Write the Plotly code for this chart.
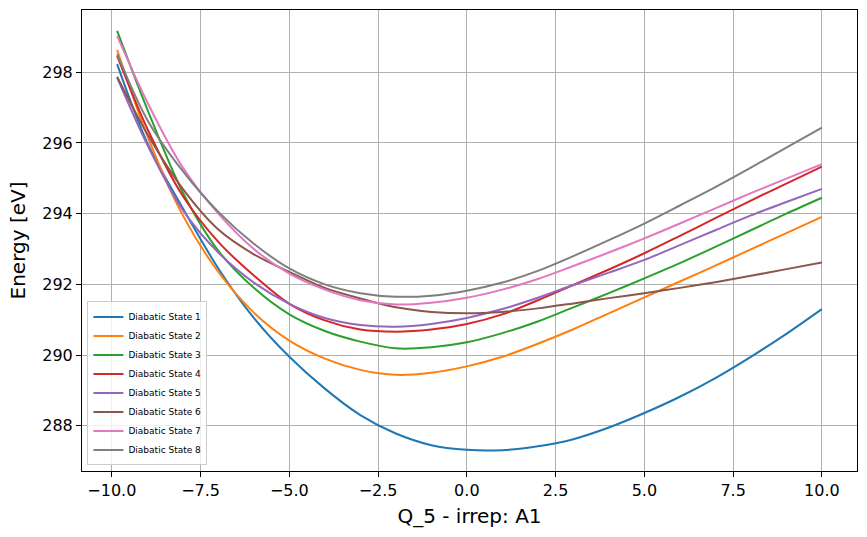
import plotly.graph_objects as go

q = [-9.85, -9, -8, -7, -6, -5, -4, -3, -2, -1, 0, 1, 2, 3, 4, 5, 6, 7, 8, 9, 10]

state1 = [298.23, 296.0, 294.15, 292.45, 291.05, 289.95, 289.05, 288.3, 287.78, 287.45, 287.32, 287.31, 287.42, 287.62, 287.95, 288.36, 288.82, 289.35, 289.95, 290.6, 291.30]
state2 = [298.63, 296.2, 293.95, 292.35, 291.2, 290.41, 289.9, 289.58, 289.44, 289.5, 289.68, 289.95, 290.32, 290.73, 291.18, 291.63, 292.08, 292.53, 292.99, 293.45, 293.91]
state3 = [299.17, 296.95, 294.6, 292.95, 291.9, 291.15, 290.68, 290.38, 290.19, 290.22, 290.36, 290.62, 290.95, 291.35, 291.75, 292.17, 292.6, 293.06, 293.53, 294.0, 294.45]
state4 = [298.46, 296.4, 294.5, 293.2, 292.25, 291.45, 290.98, 290.72, 290.66, 290.72, 290.88, 291.15, 291.55, 291.98, 292.42, 292.88, 293.37, 293.87, 294.37, 294.85, 295.33]
state5 = [297.85, 295.95, 294.1, 292.9, 292.05, 291.45, 291.05, 290.85, 290.8, 290.88, 291.05, 291.3, 291.62, 291.98, 292.33, 292.69, 293.11, 293.53, 293.95, 294.33, 294.70]
state6 = [297.87, 296.25, 294.7, 293.55, 292.85, 292.35, 291.9, 291.6, 291.35, 291.22, 291.18, 291.22, 291.32, 291.46, 291.61, 291.75, 291.9, 292.06, 292.24, 292.43, 292.62]
state7 = [299.03, 297.15, 295.3, 294.0, 293.0, 292.3, 291.85, 291.55, 291.43, 291.48, 291.62, 291.85, 292.15, 292.52, 292.9, 293.3, 293.72, 294.15, 294.58, 294.99, 295.40]
state8 = [298.51, 296.65, 295.2, 294.05, 293.15, 292.45, 292.0, 291.75, 291.65, 291.68, 291.82, 292.05, 292.38, 292.8, 293.25, 293.72, 294.23, 294.75, 295.3, 295.87, 296.43]

names = [f"Diabatic State {i}" for i in range(1, 9)]
series = [state1, state2, state3, state4, state5, state6, state7, state8]
colors = ["#1f77b4", "#ff7f0e", "#2ca02c", "#d62728", "#9467bd", "#8c564b", "#e377c2", "#7f7f7f"]

xticks = [-10, -7.5, -5, -2.5, 0, 2.5, 5, 7.5, 10]
xticktext = ["−10.0", "−7.5", "−5.0", "−2.5", "0.0", "2.5", "5.0", "7.5", "10.0"]
yticks = [288, 290, 292, 294, 296, 298]

fig = go.Figure()
for name, ys, c in zip(names, series, colors):
    fig.add_trace(go.Scatter(x=q, y=ys, mode="lines", name=name,
                             line=dict(color=c, width=2, shape="spline", smoothing=0.9)))

axis_common = dict(showline=True, linecolor="black", linewidth=1, mirror=True,
                   ticks="outside", ticklen=5, tickcolor="black",
                   showgrid=True, gridcolor="#b0b0b0", gridwidth=1, zeroline=False,
                   tickfont=dict(family="DejaVu Sans", size=16, color="black"))

fig.update_layout(
    width=867, height=537,
    margin=dict(l=82, r=10, t=10, b=66),
    paper_bgcolor="white", plot_bgcolor="white",
    font=dict(family="DejaVu Sans", color="black"),
    xaxis=dict(range=[-10.84, 10.99], tickvals=xticks, ticktext=xticktext,
               title=dict(text="Q_5 - irrep: A1", font=dict(size=20), standoff=9), **axis_common),
    yaxis=dict(range=[286.72, 299.76], tickvals=yticks,
               title=dict(text="Energy [eV]", font=dict(size=20), standoff=11), **axis_common),
    legend=dict(x=0.007, y=0.012, xanchor="left", yanchor="bottom",
                bgcolor="rgba(255,255,255,0.8)", bordercolor="#cccccc", borderwidth=1,
                font=dict(size=9, family="DejaVu Sans"), tracegroupgap=0, itemwidth=30),
    showlegend=True,
)

fig.write_html("out.html")
